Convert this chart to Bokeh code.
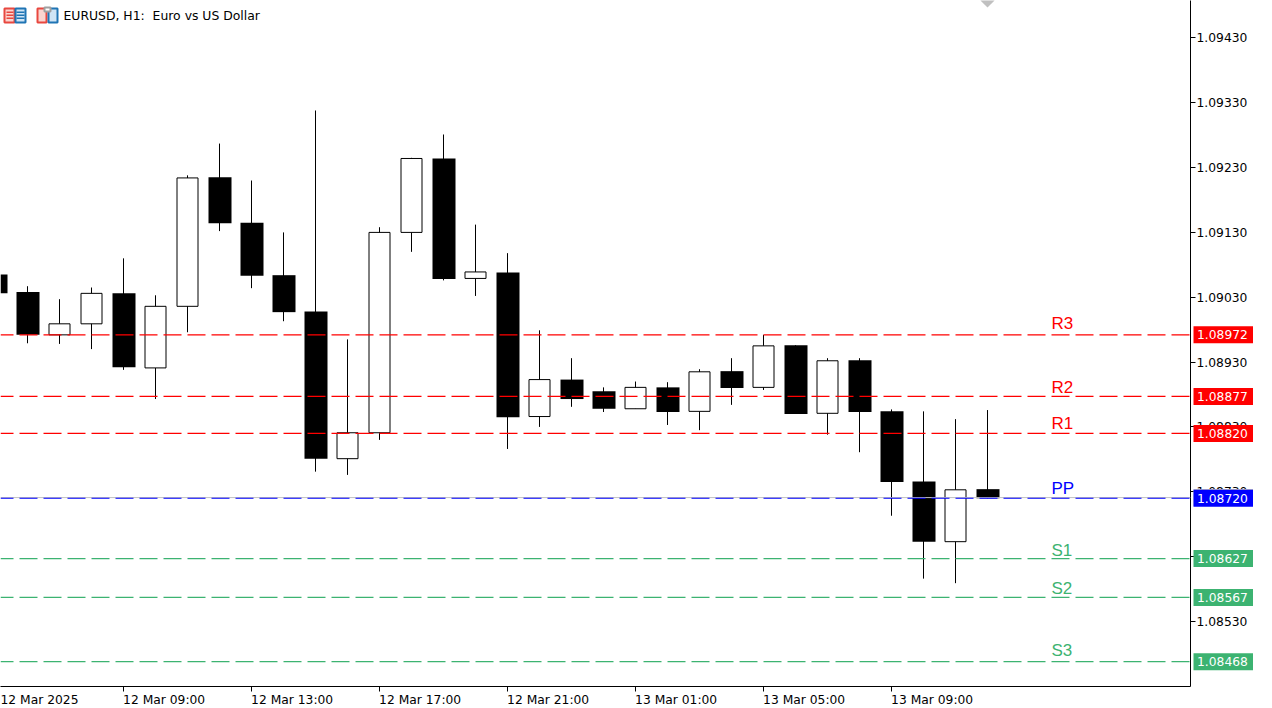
from bokeh.core.properties import value
from bokeh.embed import file_html
from bokeh.layouts import row
from bokeh.models import (
    BoxAnnotation,
    FixedTicker,
    Label,
    LinearAxis,
    PrintfTickFormatter,
    Span,
)
from bokeh.plotting import figure
from bokeh.resources import INLINE

# hourly bars, bar 3 is 12 Mar 09:00
bars = list(range(-1, 31))
opens = [
    1.09065, 1.09038, 1.08972, 1.08989, 1.09036, 1.08921, 1.09016, 1.09215,
    1.09145, 1.09064, 1.09008, 1.08781, 1.08821, 1.09130, 1.09244, 1.09059,
    1.09068, 1.08846, 1.08903, 1.08885, 1.08858, 1.08891, 1.08854, 1.08916,
    1.08891, 1.08956, 1.08851, 1.08933, 1.08854, 1.08746, 1.08653, 1.08734,
]
highs = [
    1.09068, 1.09047, 1.09027, 1.09045, 1.09090, 1.09033, 1.09218, 1.09267,
    1.09210, 1.09130, 1.09318, 1.08965, 1.09138, 1.09245, 1.09281, 1.09142,
    1.09098, 1.08979, 1.08936, 1.08891, 1.08900, 1.08899, 1.08919, 1.08936,
    1.08972, 1.08956, 1.08936, 1.08936, 1.08857, 1.08854, 1.08842, 1.08856,
]
lows = [
    1.09036, 1.08959, 1.08958, 1.08950, 1.08918, 1.08873, 1.08976, 1.09132,
    1.09044, 1.08993, 1.08761, 1.08756, 1.08810, 1.09100, 1.09056, 1.09032,
    1.08796, 1.08830, 1.08861, 1.08853, 1.08858, 1.08833, 1.08825, 1.08864,
    1.08887, 1.08850, 1.08818, 1.08791, 1.08693, 1.08596, 1.08589, 1.08720,
]
closes = [
    1.09036, 1.08972, 1.08989, 1.09036, 1.08922, 1.09016, 1.09214, 1.09144,
    1.09063, 1.09007, 1.08781, 1.08821, 1.09130, 1.09244, 1.09058, 1.09069,
    1.08845, 1.08903, 1.08873, 1.08858, 1.08891, 1.08853, 1.08915, 1.08890,
    1.08955, 1.08850, 1.08932, 1.08853, 1.08745, 1.08653, 1.08733, 1.08720,
]

time_ticks = [-1, 3, 7, 11, 15, 19, 23, 27]
time_labels = [
    "12 Mar 2025", "12 Mar 09:00", "12 Mar 13:00", "12 Mar 17:00",
    "12 Mar 21:00", "13 Mar 01:00", "13 Mar 05:00", "13 Mar 09:00",
]
price_ticks = [
    1.09430, 1.09330, 1.09230, 1.09130, 1.09030,
    1.08930, 1.08830, 1.08730, 1.08630, 1.08530,
]

level_names = ["R3", "R2", "R1", "PP", "S1", "S2", "S3"]
level_prices = [1.08972, 1.08877, 1.08820, 1.08720, 1.08627, 1.08567, 1.08468]
level_colors = ["#ff0000", "#ff0000", "#ff0000", "#0000ff", "#3cb371", "#3cb371", "#3cb371"]
level_label_lift = [11, 9, 10, 10, 8, 9, 11]
level_label_bar = 32
bid_price = 1.08721
marker_bar = 30

TICK_FONT = "DejaVu Sans"
TICK_SIZE = "12.3px"
# bokeh draws everything half a pixel down and right, the ranges take that out
Y_START = 1.0842965
Y_END = 1.0948765
PX_PER_BAR = 32
FRAME_W = 1190
FRAME_H = 686
TAG_FIG_W = 79
# labels sit right of their tick, the axis centres them
LABEL_SHIFT = 1.27

x_start = -27 / PX_PER_BAR
p = figure(
    frame_width=FRAME_W,
    frame_height=FRAME_H,
    x_range=(x_start, x_start + FRAME_W / PX_PER_BAR),
    y_range=(Y_START, Y_END),
    output_backend="svg",
    toolbar_location=None,
    x_axis_location=None,
    y_axis_location=None,
    min_border_left=0,
    min_border_top=0,
    min_border_right=82,
    min_border_bottom=22,
    background_fill_color="white",
    border_fill_color="white",
    outline_line_color=None,
)
p.grid.visible = False

price_axis = LinearAxis(
    ticker=FixedTicker(ticks=price_ticks),
    formatter=PrintfTickFormatter(format="%.5f"),
    axis_line_color="black",
    major_tick_line_color="black",
    major_tick_in=0,
    major_tick_out=5,
    minor_tick_line_color=None,
    major_label_standoff=1,
    major_label_text_font=TICK_FONT,
    major_label_text_font_size=TICK_SIZE,
    major_label_text_color="black",
)
p.add_layout(price_axis, "right")

label_ticks = [t + LABEL_SHIFT for t in time_ticks]
time_axis = LinearAxis(
    ticker=FixedTicker(ticks=label_ticks, minor_ticks=time_ticks),
    major_label_overrides=dict(zip(label_ticks, time_labels)),
    axis_line_color="black",
    major_tick_line_color=None,
    major_tick_in=0,
    major_tick_out=0,
    minor_tick_line_color="black",
    minor_tick_in=0,
    minor_tick_out=5,
    major_label_standoff=1,
    major_label_text_font=TICK_FONT,
    major_label_text_font_size=TICK_SIZE,
    major_label_text_color="black",
)
p.add_layout(time_axis, "below")

up_x, up_body_top, up_body_bottom = [], [], []
down_x, down_body_top, down_body_bottom = [], [], []
for bar, o, c in zip(bars, opens, closes):
    if c > o:
        up_x.append(bar)
        up_body_top.append(c)
        up_body_bottom.append(o)
    else:
        down_x.append(bar + 0.5 / PX_PER_BAR)
        down_body_top.append(o)
        down_body_bottom.append(c)

p.segment(x0=bars, y0=highs, x1=bars, y1=lows, line_color="black", line_width=1)
p.vbar(x=down_x, width=23 / PX_PER_BAR, top=down_body_top, bottom=down_body_bottom, fill_color="black", line_color=None)
p.vbar(x=up_x, width=21 / PX_PER_BAR, top=up_body_top, bottom=up_body_bottom, fill_color="white", line_color="black", line_width=1)

p.scatter(x=[marker_bar], y=[Y_END], marker="square", angle=0.785, size=10, fill_color="#c0c0c0", line_color=None)

p.add_layout(Span(location=bid_price, dimension="width", line_color="#c0c0c0", line_width=1))

for name, price, color, lift in zip(level_names, level_prices, level_colors, level_label_lift):
    p.add_layout(Span(location=price, dimension="width", line_color=color, line_width=1.2, line_dash="18 6", line_dash_offset=5))
    p.text(
        x=[level_label_bar],
        y=[price],
        text=[name],
        y_offset=-lift,
        text_font=value("Liberation Sans"),
        text_font_size="17px",
        text_color=color,
        text_align="left",
        text_baseline="alphabetic",
    )

p.add_layout(
    Label(
        x=63,
        x_units="screen",
        y=Y_END,
        y_offset=-15,
        text="EURUSD, H1:\u00a0\u00a0Euro vs US Dollar",
        text_align="left",
        text_baseline="middle",
        text_font=TICK_FONT,
        text_font_size="12.4px",
        text_color="black",
    )
)


def add_box(left, top, right, bottom, fill, line=None):
    # screen y of a box counts up from the frame's bottom edge
    p.add_layout(
        BoxAnnotation(
            left=left,
            right=right,
            top=FRAME_H - top,
            bottom=FRAME_H - bottom,
            left_units="screen",
            right_units="screen",
            top_units="screen",
            bottom_units="screen",
            fill_color=fill,
            fill_alpha=1,
            line_color=line,
            line_alpha=1 if line else 0,
            line_width=2 if line else 0,
        )
    )


RED = "#e8473f"
BLUE = "#1f74b4"
# list icon
add_box(4, 8, 14, 22, "#fbd5d0", RED)
add_box(15, 8, 25, 22, "#cfe4f5", BLUE)
for y in (11, 14, 17):
    add_box(6, y, 13, y + 1.5, RED)
    add_box(16, y, 24, y + 1.5, BLUE)
# profile icon
add_box(37, 8, 46, 22, "#fbd5d0", RED)
add_box(48, 8, 57, 22, "#cfe4f5", BLUE)
add_box(44, 7, 50, 11, "white", "#a0a0a0")

# annotations get clipped to the frame, so the price tags live in a second
# figure laid over the axis
tags = figure(
    frame_width=TAG_FIG_W,
    frame_height=FRAME_H,
    x_range=(0, TAG_FIG_W),
    y_range=p.y_range,
    output_backend="svg",
    toolbar_location=None,
    x_axis_location=None,
    y_axis_location=None,
    min_border_left=0,
    min_border_top=0,
    min_border_right=0,
    min_border_bottom=0,
    background_fill_color=None,
    border_fill_color=None,
    outline_line_color=None,
    margin=(0, 0, 0, -TAG_FIG_W),
)
tags.grid.visible = False
tags.rect(x=[29.5], y=[bid_price], width=60, height=17, height_units="screen", fill_color="#c0c0c0", line_color=None)
tags.rect(x=[29.5] * len(level_prices), y=level_prices, width=60, height=17, height_units="screen", fill_color=level_colors, line_color=None)
tags.text(
    x=[3.5] * len(level_prices),
    y=level_prices,
    text=[f"{price:.5f}" for price in level_prices],
    text_font=value(TICK_FONT),
    text_font_size=TICK_SIZE,
    text_color="white",
    text_align="left",
    text_baseline="middle",
)

open("out.html", "w").write(file_html(row(p, tags, spacing=0), INLINE))
